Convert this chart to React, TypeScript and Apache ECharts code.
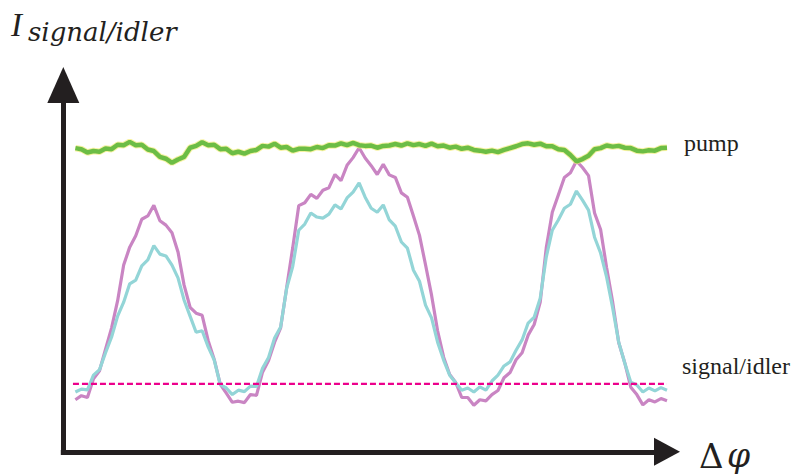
import React, { useEffect, useRef } from "react";
import * as echarts from "echarts";

// phase difference (arbitrary units along the horizontal axis)
const phase = [
  2, 3, 4, 5, 6, 7, 8, 9, 10, 11,
  12, 13, 14, 15, 16, 17, 18, 19, 20, 21,
  22, 23, 24, 25, 26, 27, 28, 29, 30, 31,
  32, 33, 34, 35, 36, 37, 38, 39, 40, 41,
  42, 43, 44, 45, 46, 47, 48, 49, 50, 51,
  52, 53, 54, 55, 56, 57, 58, 59, 60, 61,
  62, 63, 64, 65, 66, 67, 68, 69, 70, 71,
  72, 73, 74, 75, 76, 77, 78, 79, 80, 81,
  82, 83, 84, 85, 86, 87, 88, 89, 90, 91,
  92, 93, 94, 95, 96, 97, 98, 99, 100,
];

const pump = [
  82.8, 82.5, 81.6, 82.0, 81.8, 82.7, 82.5, 83.7, 83.6, 84.5,
  83.6, 83.7, 82.4, 82.0, 80.4, 79.9, 78.8, 79.7, 80.4, 82.9,
  83.4, 84.4, 83.6, 83.7, 82.5, 82.6, 81.4, 81.8, 81.3, 82.0,
  82.3, 83.4, 83.2, 84.0, 82.9, 83.1, 82.1, 82.6, 82.6, 82.5,
  83.1, 82.8, 83.6, 83.5, 84.1, 83.6, 84.2, 83.6, 83.4, 83.5,
  82.9, 83.4, 83.5, 83.9, 83.5, 84.1, 83.6, 83.9, 83.4, 84.0,
  83.3, 83.5, 82.9, 83.2, 82.6, 82.9, 82.3, 82.1, 81.8, 82.1,
  81.7, 82.3, 82.8, 83.3, 83.9, 84.1, 83.7, 84.0, 83.3, 83.3,
  82.5, 82.3, 80.9, 79.2, 79.8, 80.7, 82.5, 82.8, 83.5, 83.2,
  83.4, 82.9, 82.8, 82.1, 81.9, 82.2, 82.1, 82.8, 82.9,
];

const signal = [
  14.2, 15.3, 14.8, 19.9, 22.1, 28.0, 33.8, 41.2, 50.9, 55.8,
  58.9, 63.4, 64.3, 67.2, 63.0, 61.8, 59.7, 54.5, 45.5, 39.4,
  37.8, 37.2, 30.3, 25.2, 18.4, 16.0, 13.5, 13.8, 13.4, 15.6,
  15.4, 21.7, 24.9, 29.9, 33.8, 44.8, 55.6, 67.1, 67.9, 70.2,
  69.1, 71.3, 72.0, 75.6, 73.9, 78.1, 80.2, 82.9, 80.1, 78.0,
  75.6, 78.4, 75.5, 74.8, 70.6, 69.4, 64.3, 59.0, 51.0, 42.7,
  33.0, 25.8, 21.1, 18.9, 14.8, 14.8, 12.7, 14.2, 13.9, 15.6,
  16.7, 20.2, 21.6, 25.1, 27.0, 31.8, 34.7, 40.8, 55.6, 65.3,
  70.0, 74.8, 76.1, 79.3, 77.5, 75.3, 65.1, 60.6, 50.2, 40.8,
  29.8, 24.3, 17.6, 15.6, 12.8, 14.2, 13.6, 14.5, 13.9,
];

const idler = [
  16.3, 17.1, 16.9, 20.9, 22.4, 27.0, 31.3, 37.0, 40.8, 45.8,
  46.8, 50.7, 52.3, 56.2, 53.9, 53.4, 50.9, 47.4, 41.4, 37.0,
  32.6, 33.0, 28.6, 25.0, 18.3, 17.4, 15.6, 16.8, 16.4, 17.9,
  17.8, 22.8, 25.7, 31.0, 34.0, 44.6, 50.5, 60.4, 62.1, 65.1,
  64.0, 63.7, 64.8, 67.3, 66.2, 69.2, 70.8, 73.3, 69.4, 66.4,
  65.3, 67.3, 63.2, 61.5, 57.2, 55.5, 49.5, 46.5, 40.0, 36.5,
  29.9, 25.0, 20.9, 18.8, 16.8, 17.4, 16.3, 17.7, 16.8, 19.3,
  20.9, 23.4, 24.5, 27.7, 30.5, 35.1, 36.7, 41.9, 53.1, 60.4,
  63.2, 66.4, 67.5, 71.1, 68.6, 65.9, 58.5, 54.2, 47.6, 39.2,
  29.9, 24.2, 19.0, 18.2, 16.3, 17.4, 16.6, 17.5, 16.8,
];

const thresholdLevel = 18.5;
const thresholdSpan = [1.6, 100];

const pumpLabel = "pump";
const signalLabel = "signal/idler";
const yTitleMain = "I";
const yTitleSub = "signal/idler";
const xTitleDelta = "Δ";
const xTitlePhi = "φ";

export default function App() {
  const ref = useRef<HTMLDivElement>(null);

  useEffect(() => {
    if (!ref.current) return;
    const chart = echarts.init(ref.current, null, { renderer: "svg" });
    const zip = (ys: number[]) => phase.map((x, i) => [x, ys[i]]);
    const axisColor = "#231f20";

    chart.setOption({
      animation: false,
      backgroundColor: "#ffffff",
      grid: { left: 63.3, right: 130, top: 85, bottom: 24.2 },
      xAxis: {
        type: "value",
        min: 0,
        max: 100,
        axisLine: {
          show: true,
          onZero: false,
          symbol: ["none", "triangle"],
          symbolSize: [28, 26],
          lineStyle: { color: axisColor, width: 5, cap: "square" },
        },
        axisTick: { show: false },
        axisLabel: { show: false },
        splitLine: { show: false },
      },
      yAxis: {
        type: "value",
        min: 0,
        max: 100,
        axisLine: {
          show: true,
          onZero: false,
          symbol: ["none", "triangle"],
          symbolSize: [32, 36],
          lineStyle: { color: axisColor, width: 5, cap: "square" },
        },
        axisTick: { show: false },
        axisLabel: { show: false },
        splitLine: { show: false },
      },
      series: [
        {
          name: "signal",
          type: "line",
          data: zip(signal),
          showSymbol: false,
          symbol: "none",
          lineStyle: { color: "#c985c3", width: 3.2 },
          z: 2,
        },
        {
          name: "idler",
          type: "line",
          data: zip(idler),
          showSymbol: false,
          symbol: "none",
          lineStyle: { color: "#93d5d7", width: 3.2 },
          z: 3,
        },
        {
          name: "pump-halo",
          type: "line",
          data: zip(pump),
          showSymbol: false,
          symbol: "none",
          lineStyle: { color: "#f2ec7a", width: 6.5, opacity: 0.7 },
          z: 4,
        },
        {
          name: "pump",
          type: "line",
          data: zip(pump),
          showSymbol: false,
          symbol: "none",
          lineStyle: { color: "#6cbd45", width: 4.5 },
          z: 5,
        },
        {
          name: "threshold",
          type: "line",
          data: thresholdSpan.map((x) => [x, thresholdLevel]),
          showSymbol: false,
          symbol: "none",
          lineStyle: { color: "#ec008c", width: 2.2, type: [6, 3] },
          z: 6,
        },
      ],
      graphic: [
        {
          type: "text",
          left: 684,
          top: 131,
          style: {
            text: pumpLabel,
            font: '24px "Liberation Serif"',
            fill: "#231f20",
          },
        },
        {
          type: "text",
          left: 682,
          top: 354,
          style: {
            text: signalLabel,
            font: '24px "Liberation Serif"',
            fill: "#231f20",
          },
        },
        {
          type: "text",
          left: 11,
          top: 8,
          style: {
            text: yTitleMain,
            font: 'italic 33px "Liberation Serif"',
            fill: "#231f20",
          },
        },
        {
          type: "text",
          left: 28,
          top: 19,
          style: {
            text: yTitleSub,
            font: 'italic 26px "DejaVu Serif"',
            fill: "#231f20",
          },
        },
        {
          type: "text",
          left: 699,
          top: 439,
          style: {
            text: xTitleDelta,
            font: '34px "DejaVu Serif"',
            fill: "#231f20",
          },
        },
        {
          type: "text",
          left: 727,
          top: 439,
          style: {
            text: xTitlePhi,
            font: 'italic 33px "DejaVu Serif"',
            fill: "#231f20",
          },
        },
      ],
    });

    return () => chart.dispose();
  }, []);

  return (
    <div
      ref={ref}
      style={{ position: "fixed", left: 0, top: 0, width: 797, height: 476 }}
    />
  );
}
